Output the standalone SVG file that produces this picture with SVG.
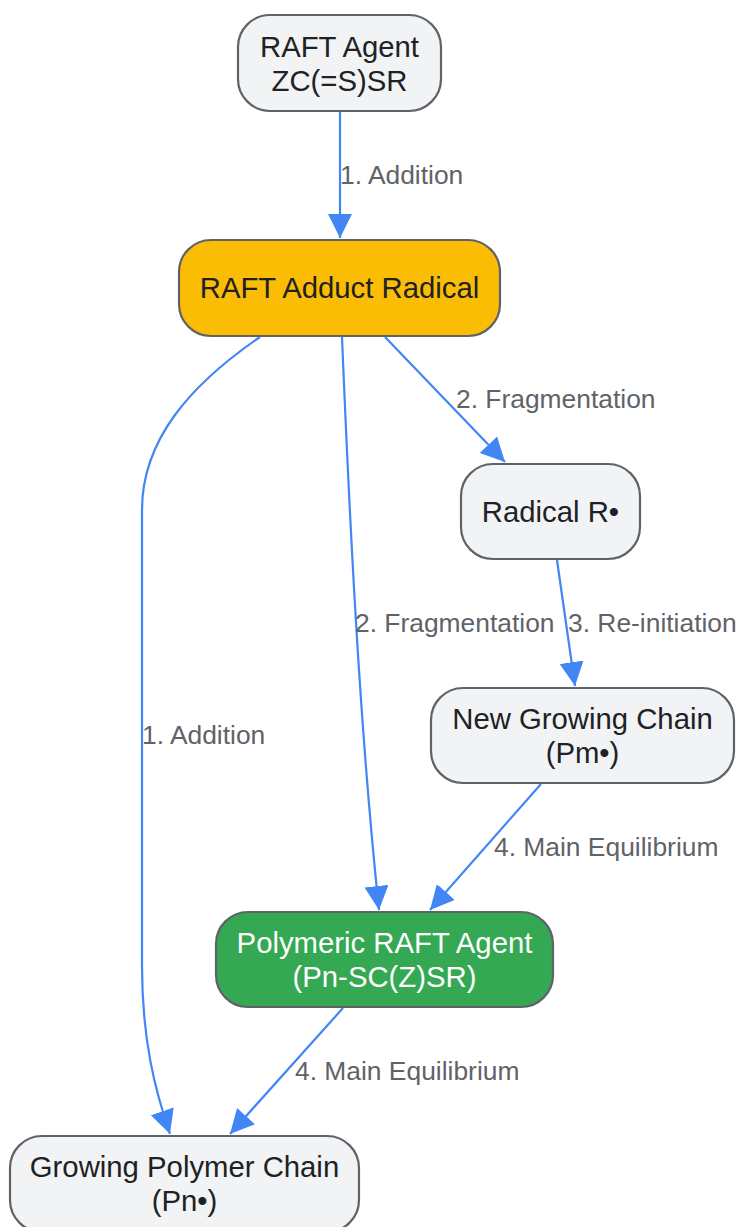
<svg xmlns="http://www.w3.org/2000/svg" width="740" height="1227" viewBox="0 0 740 1227">
<style>
.node rect{stroke:#5f6368;stroke-width:2.2}
.gray rect{fill:#f1f3f4}
.t{font-family:"Liberation Sans",Arial,sans-serif;font-size:29.3px;fill:#202124;text-anchor:middle;dominant-baseline:central}
.w{fill:#ffffff}
.edge{fill:none;stroke:#4285f4;stroke-width:2.2}
.lbl{font-family:"Liberation Sans",Arial,sans-serif;font-size:26.4px;fill:#5f6368;dominant-baseline:central}
</style>
<defs>
<marker id="arr" markerUnits="userSpaceOnUse" markerWidth="26" markerHeight="26" refX="24" refY="12" orient="auto" viewBox="0 0 26 26">
<path d="M0,0 L24,12 L0,24 z" fill="#4285f4"/>
</marker>
</defs>
<rect width="740" height="1227" fill="#ffffff"/>
<g id="connectors">
<path class="edge" d="M340,112 L340,238" marker-end="url(#arr)"/>
<path class="edge" d="M385,337 L505,462" marker-end="url(#arr)"/>
<path class="edge" d="M342,337 C350,530 360,730 379,910" marker-end="url(#arr)"/>
<path class="edge" d="M260,337 C190,385 142,440 142,510 L142,965 C142,1040 155,1090 170,1134" marker-end="url(#arr)"/>
<path class="edge" d="M557,560 L575,686" marker-end="url(#arr)"/>
<path class="edge" d="M541,784 L430,910" marker-end="url(#arr)"/>
<path class="edge" d="M343,1008 L230,1134" marker-end="url(#arr)"/>
<text class="lbl" x="340" y="175">1. Addition</text>
<text class="lbl" x="456" y="399">2. Fragmentation</text>
<text class="lbl" x="355" y="623">2. Fragmentation</text>
<text class="lbl" x="142" y="735">1. Addition</text>
<text class="lbl" x="568" y="623">3. Re-initiation</text>
<text class="lbl" x="494" y="847">4. Main Equilibrium</text>
<text class="lbl" x="295" y="1071">4. Main Equilibrium</text>
</g>
<g id="raft-agent" class="node gray">
<rect x="238" y="15" width="203" height="96" rx="32"/>
<text class="t" x="339.5" y="46">RAFT Agent</text>
<text class="t" x="339.5" y="80">ZC(=S)SR</text>
</g>
<g id="adduct" class="node">
<rect x="179" y="240" width="321" height="96" rx="32" fill="#fbbc04"/>
<text class="t" x="339.5" y="287">RAFT Adduct Radical</text>
</g>
<g id="radical-r" class="node gray">
<rect x="461" y="464" width="179" height="95" rx="32"/>
<text class="t" x="550.5" y="511">Radical R•</text>
</g>
<g id="new-chain" class="node gray">
<rect x="431" y="688" width="303" height="95" rx="32"/>
<text class="t" x="582.5" y="718">New Growing Chain</text>
<text class="t" x="582.5" y="752">(Pm•)</text>
</g>
<g id="polymeric-raft" class="node">
<rect x="216" y="912" width="337" height="95" rx="32" fill="#34a853"/>
<text class="t w" x="384.5" y="942">Polymeric RAFT Agent</text>
<text class="t w" x="384.5" y="976">(Pn-SC(Z)SR)</text>
</g>
<g id="growing-chain" class="node gray">
<rect x="10" y="1136" width="349" height="96" rx="32"/>
<text class="t" x="184.5" y="1166">Growing Polymer Chain</text>
<text class="t" x="184.5" y="1200">(Pn•)</text>
</g>
</svg>
